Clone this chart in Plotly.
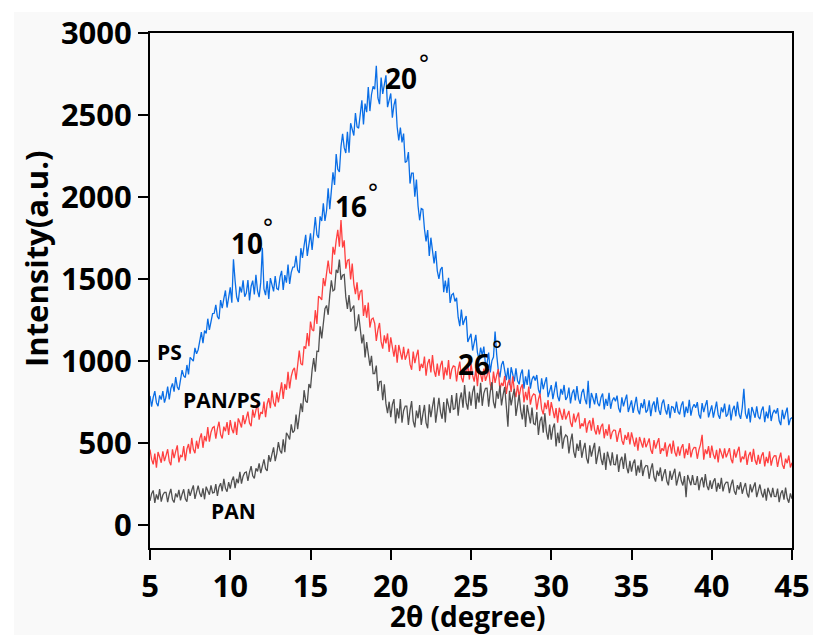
import plotly.graph_objects as go

# 2-theta sampling (degrees), 0.1 step from 5 to 45
two_theta = [round(5 + 0.1 * i, 1) for i in range(401)]

ps = [
    787, 722, 778, 816, 746, 725, 790, 765, 816, 746,
    782, 844, 766, 833, 864, 813, 902, 842, 824, 894,
    945, 909, 900, 976, 918, 1022, 1012, 999, 1080, 1044,
    1068, 1136, 1176, 1109, 1186, 1168, 1258, 1190, 1253, 1289,
    1291, 1342, 1271, 1256, 1372, 1323, 1380, 1430, 1326, 1382,
    1449, 1355, 1620, 1491, 1390, 1360, 1454, 1418, 1492, 1392,
    1414, 1493, 1370, 1456, 1490, 1406, 1525, 1427, 1390, 1481,
    1690, 1439, 1402, 1488, 1378, 1506, 1468, 1425, 1518, 1442,
    1435, 1512, 1550, 1433, 1524, 1478, 1588, 1470, 1541, 1573,
    1574, 1641, 1554, 1537, 1688, 1629, 1703, 1770, 1641, 1715,
    1778, 1678, 1794, 1878, 1770, 1750, 1882, 1854, 1962, 1854,
    1916, 2053, 1926, 2072, 2150, 2074, 2262, 2169, 2153, 2308,
    2385, 2301, 2268, 2397, 2270, 2450, 2417, 2375, 2512, 2428,
    2420, 2530, 2589, 2443, 2570, 2517, 2670, 2524, 2625, 2675,
    2657, 2800, 2604, 2566, 2728, 2629, 2693, 2742, 2548, 2596,
    2631, 2483, 2561, 2599, 2427, 2345, 2424, 2333, 2387, 2210,
    2218, 2274, 2082, 2146, 2146, 2002, 2106, 1946, 1858, 1930,
    1925, 1805, 1730, 1798, 1640, 1752, 1678, 1595, 1670, 1550,
    1501, 1558, 1573, 1420, 1491, 1415, 1507, 1354, 1404, 1412,
    1363, 1386, 1267, 1212, 1314, 1220, 1250, 1274, 1116, 1146,
    1166, 1064, 1124, 1160, 1052, 1010, 1082, 1034, 1088, 980,
    986, 1051, 930, 1001, 1024, 1180, 1040, 943, 900, 977,
    1000, 924, 884, 958, 852, 962, 922, 876, 956, 880,
    858, 921, 948, 831, 906, 855, 948, 831, 888, 909,
    881, 915, 827, 795, 894, 828, 868, 901, 780, 819,
    853, 768, 833, 874, 784, 755, 830, 795, 854, 763,
    780, 838, 741, 804, 827, 760, 848, 771, 739, 807,
    830, 768, 736, 880, 712, 805, 773, 736, 804, 742,
    725, 778, 802, 705, 769, 727, 806, 709, 758, 777,
    755, 789, 712, 686, 779, 723, 762, 795, 689, 727,
    760, 684, 743, 782, 701, 675, 744, 713, 767, 686,
    700, 760, 664, 729, 754, 688, 778, 702, 672, 741,
    765, 705, 674, 738, 652, 722, 718, 684, 752, 691,
    675, 730, 754, 658, 722, 683, 764, 667, 716, 736,
    715, 749, 674, 649, 743, 688, 728, 762, 656, 696,
    730, 655, 714, 752, 673, 648, 717, 687, 741, 661,
    675, 734, 638, 702, 727, 663, 752, 677, 647, 716,
    830, 679, 648, 711, 626, 720, 689, 654, 723, 662,
    645, 699, 723, 627, 691, 650, 730, 634, 682, 702,
    680, 713, 636, 609, 702, 645, 683, 716, 609, 647,
    655,
]

pan_ps = [
    460, 400, 370, 435, 350, 445, 415, 380, 450, 390,
    425, 462, 388, 365, 461, 408, 449, 486, 382, 424,
    415, 481, 392, 463, 494, 435, 531, 462, 438, 514,
    465, 527, 559, 471, 543, 510, 597, 509, 566, 593,
    600, 527, 588, 630, 552, 528, 600, 572, 628, 550,
    640, 585, 560, 630, 550, 650, 625, 595, 670, 615,
    650, 691, 622, 603, 704, 655, 701, 742, 643, 689,
    678, 753, 658, 738, 774, 712, 820, 747, 722, 809,
    748, 827, 870, 769, 860, 825, 934, 833, 906, 943,
    959, 886, 988, 1064, 984, 975, 1090, 1075, 1170, 1091,
    1240, 1191, 1184, 1310, 1226, 1394, 1387, 1373, 1506, 1457,
    1534, 1613, 1538, 1533, 1696, 1649, 1735, 1800, 1697, 1860,
    1692, 1736, 1563, 1614, 1619, 1498, 1594, 1469, 1407, 1480,
    1371, 1423, 1433, 1275, 1341, 1265, 1357, 1204, 1254, 1262,
    1229, 1122, 1190, 1232, 1118, 1075, 1156, 1107, 1168, 1055,
    1145, 1068, 1026, 1098, 990, 1098, 1056, 1008, 1086, 1008,
    1037, 1075, 981, 947, 1057, 987, 1031, 1069, 939, 983,
    958, 1027, 910, 985, 1012, 931, 1036, 943, 904, 985,
    910, 974, 1002, 886, 962, 912, 1006, 890, 948, 970,
    966, 876, 948, 996, 900, 870, 954, 918, 983, 887,
    986, 912, 874, 950, 846, 957, 918, 873, 954, 879,
    912, 951, 858, 825, 936, 867, 912, 951, 822, 867,
    848, 909, 800, 866, 888, 812, 906, 819, 780, 853,
    782, 836, 858, 747, 812, 762, 844, 734, 783, 799,
    793, 704, 765, 802, 708, 675, 746, 707, 762, 667,
    750, 686, 652, 713, 624, 715, 681, 642, 708, 644,
    669, 696, 625, 598, 680, 626, 658, 686, 588, 620,
    602, 652, 563, 618, 638, 575, 653, 581, 552, 610,
    553, 599, 618, 529, 585, 545, 614, 524, 566, 580,
    577, 507, 558, 591, 516, 490, 550, 520, 566, 491,
    565, 508, 478, 533, 454, 537, 506, 472, 532, 475,
    499, 528, 459, 434, 518, 466, 500, 530, 434, 468,
    452, 504, 417, 474, 496, 435, 515, 445, 418, 479,
    423, 472, 493, 407, 465, 428, 499, 412, 456, 473,
    472, 404, 458, 492, 550, 398, 461, 433, 481, 409,
    485, 430, 402, 459, 382, 467, 438, 406, 468, 413,
    439, 469, 402, 377, 462, 411, 448, 477, 382, 417,
    402, 454, 367, 424, 446, 385, 465, 395, 368, 428,
    373, 422, 443, 357, 415, 378, 449, 362, 406, 423,
    422, 354, 406, 441, 368, 343, 405, 377, 424, 351,
    380,
]

pan = [
    147, 191, 211, 135, 187, 155, 219, 143, 183, 199,
    199, 139, 188, 220, 156, 137, 193, 169, 214, 150,
    188, 218, 160, 142, 220, 178, 212, 242, 160, 194,
    240, 193, 171, 224, 157, 234, 211, 185, 242, 196,
    199, 250, 177, 232, 255, 206, 281, 224, 203, 262,
    222, 271, 296, 225, 282, 255, 324, 253, 298, 319,
    324, 269, 322, 359, 300, 285, 346, 327, 376, 317,
    359, 400, 343, 330, 426, 386, 432, 474, 390, 436,
    505, 454, 436, 523, 444, 563, 546, 522, 614, 563,
    576, 673, 584, 687, 742, 689, 822, 757, 746, 860,
    835, 946, 1018, 935, 1060, 1058, 1212, 1138, 1253, 1319,
    1339, 1282, 1400, 1492, 1428, 1435, 1556, 1537, 1618, 1495,
    1523, 1528, 1391, 1318, 1402, 1300, 1322, 1338, 1182, 1214,
    1285, 1177, 1108, 1162, 1022, 1116, 1046, 971, 1032, 924,
    924, 972, 818, 873, 876, 761, 858, 740, 682, 752,
    658, 735, 768, 620, 712, 650, 768, 624, 697, 725,
    725, 610, 698, 756, 634, 595, 698, 651, 732, 610,
    675, 732, 623, 590, 736, 658, 722, 778, 624, 688,
    775, 689, 648, 750, 626, 772, 732, 683, 792, 706,
    710, 804, 666, 767, 808, 715, 854, 746, 704, 814,
    728, 811, 850, 708, 806, 747, 868, 727, 803, 834,
    835, 722, 812, 871, 750, 712, 816, 770, 851, 729,
    793, 842, 724, 600, 818, 730, 784, 830, 665, 719,
    795, 697, 644, 734, 598, 732, 680, 619, 716, 618,
    612, 689, 549, 633, 661, 563, 682, 570, 521, 612,
    521, 591, 619, 479, 563, 500, 605, 465, 528, 549,
    539, 437, 510, 557, 448, 410, 496, 452, 518, 410,
    462, 501, 408, 375, 486, 417, 462, 501, 372, 417,
    480, 405, 366, 441, 336, 447, 408, 363, 444, 369,
    368, 431, 324, 392, 416, 342, 438, 353, 316, 391,
    325, 377, 399, 301, 363, 320, 397, 299, 346, 363,
    360, 282, 339, 376, 293, 265, 332, 299, 351, 268,
    310, 341, 268, 242, 330, 276, 312, 343, 241, 277,
    325, 270, 241, 298, 170, 305, 275, 243, 304, 249,
    247, 299, 212, 269, 291, 230, 310, 240, 213, 273,
    220, 265, 285, 203, 257, 221, 288, 205, 246, 261,
    260, 195, 245, 277, 208, 185, 243, 216, 261, 191,
    228, 256, 192, 168, 248, 199, 232, 260, 170, 202,
    247, 195, 168, 221, 148, 227, 200, 169, 227, 174,
    173, 222, 139, 192, 212, 155, 229, 163, 136, 193,
    160,
]

x_ticks = [5, 10, 15, 20, 25, 30, 35, 40, 45]
y_ticks = [0, 500, 1000, 1500, 2000, 2500, 3000]

FONT = "Open Sans"
W, H = 813, 635
L, R, T, B = 150, 792, 33, 548


def px(x):
    """page pixel x -> paper coordinate"""
    return (x - L) / (R - L)


def py(y):
    """page pixel y -> paper coordinate"""
    return (B - y) / (B - T)


fig = go.Figure()
fig.add_trace(go.Scatter(x=two_theta, y=ps, mode="lines", name="PS",
                         line=dict(color="#0a6ee6", width=1.3)))
fig.add_trace(go.Scatter(x=two_theta, y=pan_ps, mode="lines", name="PAN/PS",
                         line=dict(color="#ff4040", width=1.3)))
fig.add_trace(go.Scatter(x=two_theta, y=pan, mode="lines", name="PAN",
                         line=dict(color="#505050", width=1.3)))

axis_common = dict(
    showline=True, linecolor="black", linewidth=2, mirror=True,
    ticks="outside", ticklen=10, tickwidth=2, tickcolor="black",
    showgrid=False, zeroline=False, automargin=False,
    tickfont=dict(family=FONT, size=31, color="black", weight="bold"),
)

fig.update_xaxes(range=[5, 45], tickvals=x_ticks, **axis_common)
fig.update_yaxes(range=[-140, 3000], tickvals=y_ticks, **axis_common)

annotations = []


def text(s, x, y, size, family=FONT, weight="bold", **kw):
    annotations.append(dict(
        text=s, x=px(x), y=py(y), xref="paper", yref="paper",
        showarrow=False, xanchor="center", yanchor="middle",
        font=dict(family=family, size=size, color="black", weight=weight), **kw))


text("PS", 169, 352, 21)
text("PAN/PS", 222, 400, 21)
text("PAN", 233, 511, 21)
text("10", 247, 243, 28)
text("16", 351, 206, 28)
text("20", 401, 78, 28)
text("26", 474, 364, 28)

for (cx, cy) in [(268, 221), (373, 186), (424, 57), (497, 343)]:
    text("°", cx, cy + 8, 24, family="DejaVu Sans", weight="normal")

# axis titles
text("Intensity(a.u.)", 36, 259, 31, textangle=-90)
text("2θ (degree)", 467, 616, 28)

fig.update_layout(
    width=W, height=H,
    margin=dict(l=L, r=W - R, t=T, b=H - B),
    paper_bgcolor="white", plot_bgcolor="#f9f9f9",
    showlegend=False,
    annotations=annotations,
    shapes=[dict(type="rect", xref="paper", yref="paper", layer="below",
                 x0=px(14), x1=px(830), y0=py(12), y1=py(650),
                 fillcolor="#f9f9f9", line=dict(width=0))],
)

fig.write_html("out.html",
               config={"displayModeBar": False},
               post_script="document.body.style.margin='0';"
                           "document.body.style.overflow='hidden';")
